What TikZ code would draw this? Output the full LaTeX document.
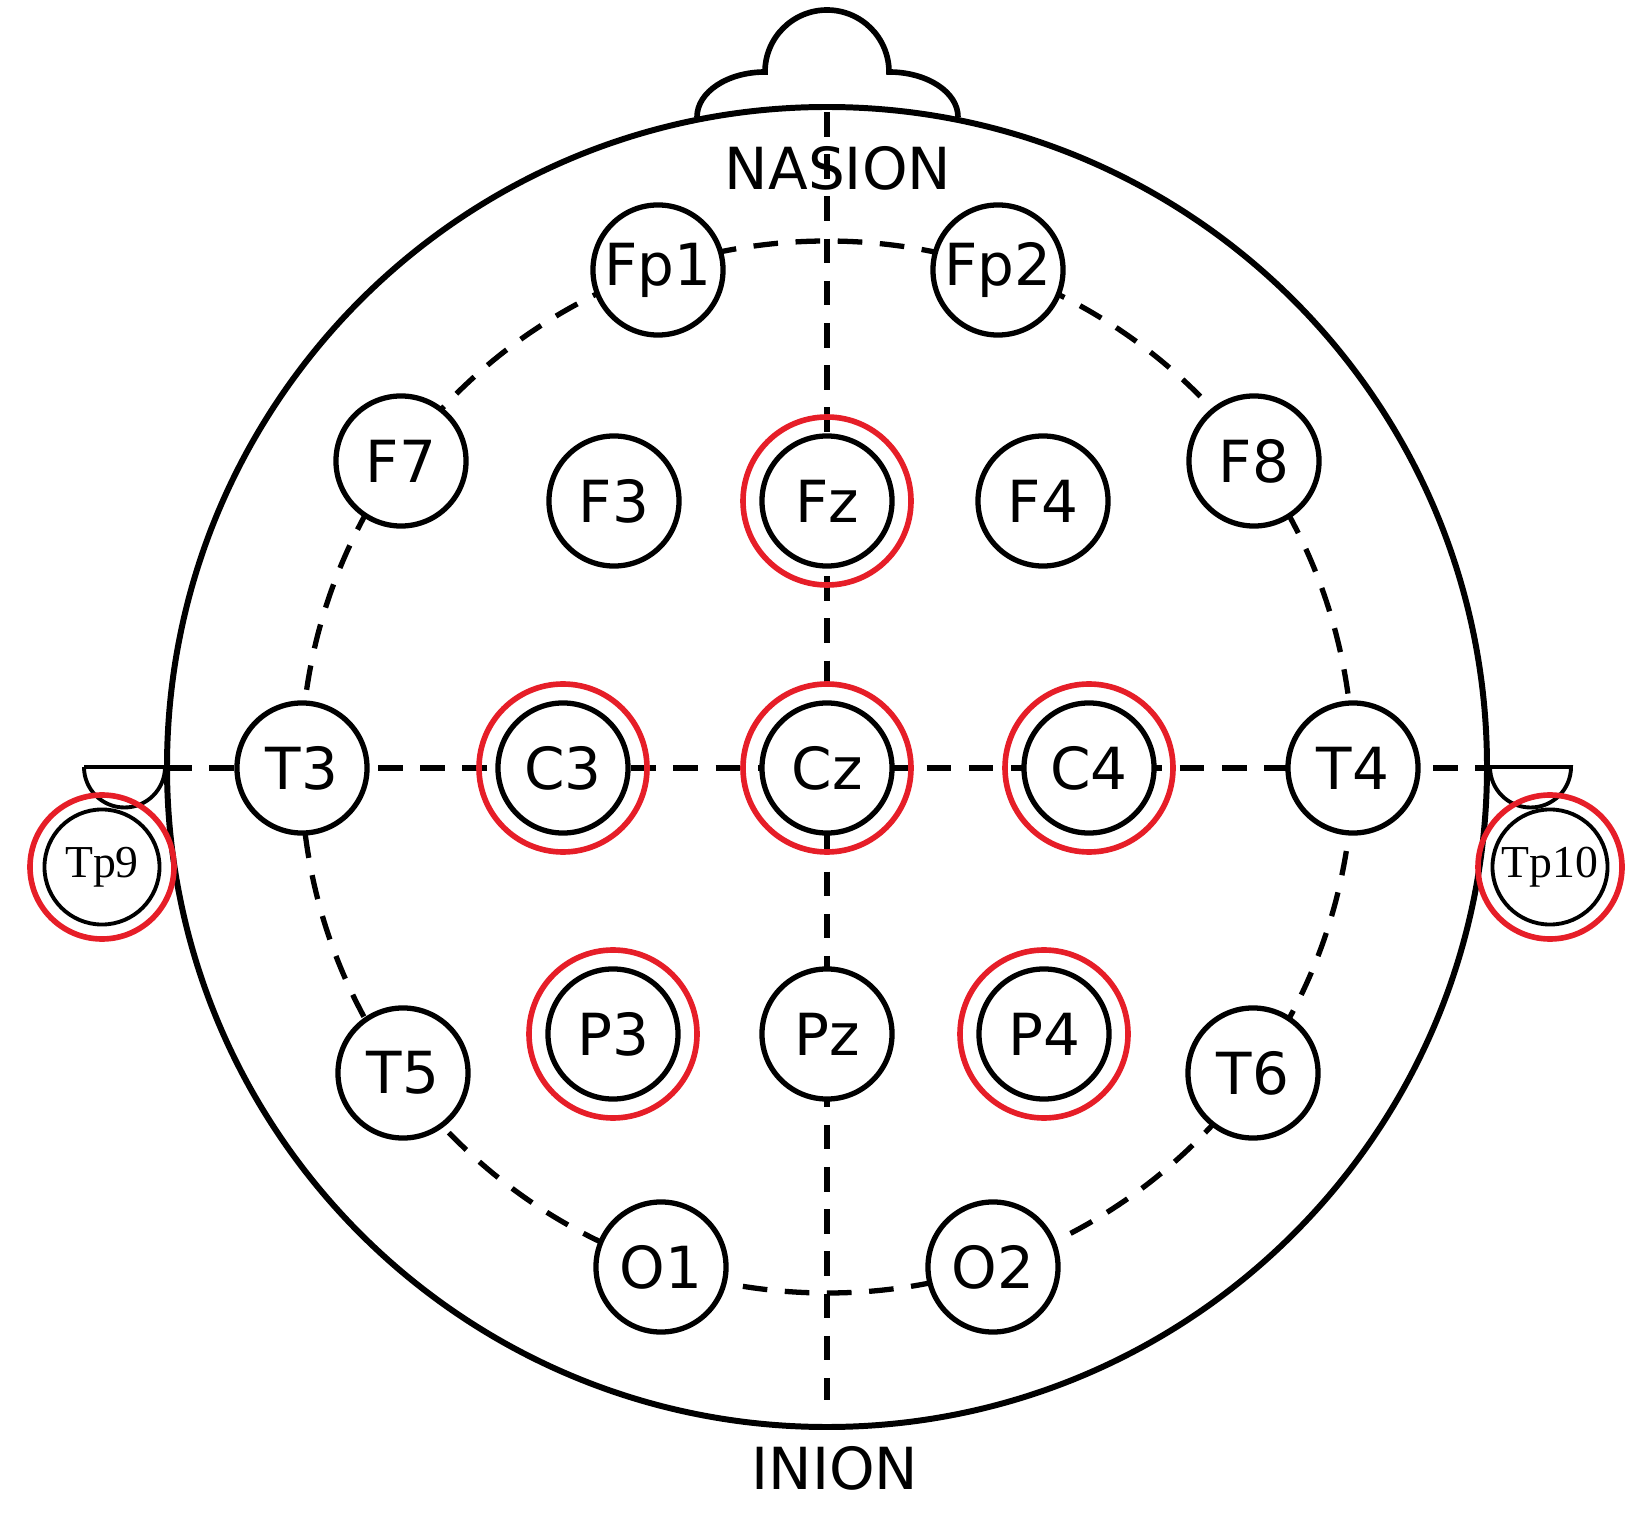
\documentclass[tikz,border=0pt]{standalone}
\usepackage{fontspec}
\setmainfont{DejaVu Sans}
\newfontfamily\tpfont{Liberation Serif}
\definecolor{ered}{RGB}{230,30,40}
\begin{document}
\begin{tikzpicture}[x=0.01cm,y=-0.01cm,
  el/.style={circle,draw,line width=1.5pt,fill=white,minimum size=1.3cm,inner sep=0pt,font=\fontsize{16.5}{16.5}\selectfont},
  ring/.style={draw=ered,line width=1.6pt},
  dsh/.style={line width=1.5pt,dash pattern=on 7pt off 5pt},
  tp/.style={circle,draw,line width=1.1pt,fill=white,minimum size=1.15cm,inner sep=0pt,font=\tpfont\fontsize{13}{13}\selectfont}]
\useasboundingbox (0,0) rectangle (1639,1519);
\coordinate (c) at (827,767);
% nose
\draw[line width=1.6pt] (697,117) arc(180:270:68 and 45) arc(180:360:62) arc(270:360:69 and 45);
% ears
\draw[line width=1.1pt] (84,767) -- (165,767) arc(0:180:40.5);
\draw[line width=1.1pt] (1490,767) -- (1571,767) arc(0:180:40.5);
% head
\draw[line width=1.7pt,fill=white] (c) circle (660);
% dashed guides
\draw[dsh] (c) circle (526);
\draw[dsh] (827,112) -- (827,1400);
\draw[dsh] (167,768) -- (1487,768);
\node[inner sep=1pt,font=\fontsize{16.5}{16.5}\selectfont] (nas) at (838,168) {NASION};
\node[font=\fontsize{16.5}{16.5}\selectfont] (ini) at (835,1468) {INION};
% electrodes
\foreach \n/\x/\y in {Fp1/658/270,Fp2/998/270,F7/401/461,F3/614/501,F4/1043/501,F8/1254/461,T3/302/768,T4/1353/768,T5/403/1073,Pz/827/1034,T6/1253/1073,O1/661/1267,O2/993/1267}
  \node[el] (\n) at (\x,\y) {\n};
\foreach \n/\x/\y in {Fz/827/501,C3/563/768,Cz/827/768,C4/1089/768,P3/613/1034,P4/1044/1034}{
  \node[el] (\n) at (\x,\y) {\n};
  \draw[ring] (\n.center) circle (84);
}
\node[tp] (Tp9) at (102,867) {Tp9};
\draw[ring] (Tp9.center) circle (72);
\node[tp] (Tp10) at (1550,867) {Tp10};
\draw[ring] (Tp10.center) circle (72);
\end{tikzpicture}
\end{document}
